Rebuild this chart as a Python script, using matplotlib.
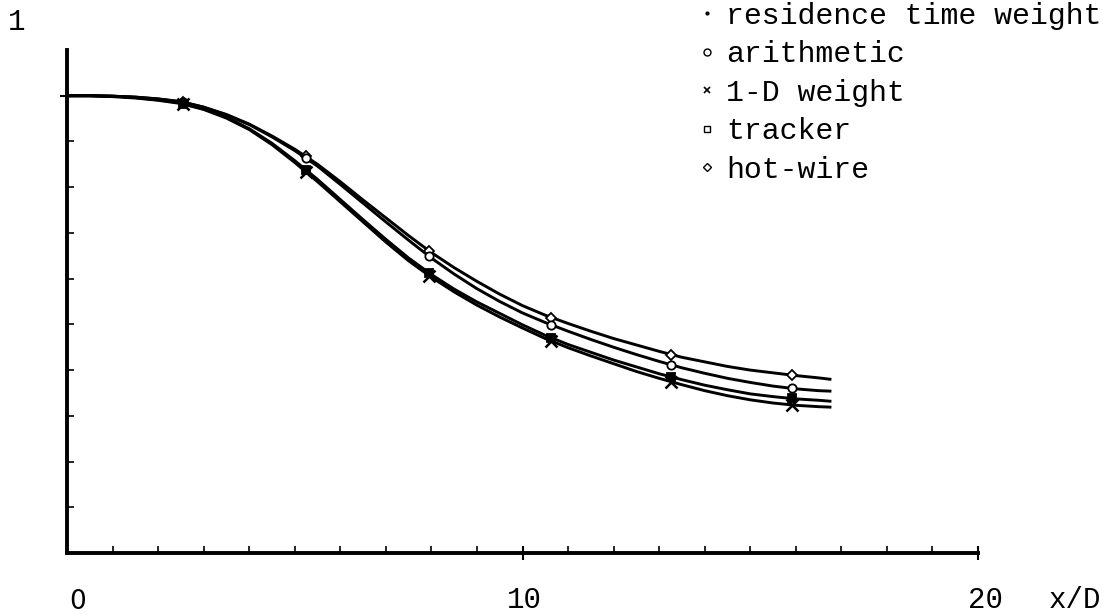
import matplotlib.pyplot as plt
from matplotlib.lines import Line2D

# smooth fitted curves, every 0.5 x/D
x_curve = [0, 0.5, 1, 1.5, 2, 2.5, 3, 3.5, 4, 4.5, 5, 5.5, 6, 6.5, 7, 7.5, 8, 8.5, 9, 9.5, 10,
           10.5, 11, 11.5, 12, 12.5, 13, 13.5, 14, 14.5, 15, 15.5, 16, 16.5, 16.75]
hotwire_curve = [1.000, 1.000, 0.999, 0.997, 0.993, 0.987, 0.975, 0.959, 0.938, 0.912, 0.883, 0.850,
                 0.812, 0.772, 0.733, 0.694, 0.657, 0.624, 0.594, 0.566, 0.541, 0.520, 0.502, 0.485,
                 0.469, 0.455, 0.441, 0.428, 0.418, 0.408, 0.400, 0.394, 0.388, 0.383, 0.380]
arith_curve = [1.000, 1.000, 0.999, 0.997, 0.993, 0.987, 0.975, 0.958, 0.937, 0.910, 0.880, 0.846,
               0.806, 0.765, 0.724, 0.684, 0.645, 0.610, 0.578, 0.550, 0.525, 0.504, 0.485, 0.467,
               0.450, 0.434, 0.419, 0.405, 0.393, 0.382, 0.373, 0.365, 0.359, 0.355, 0.354]
tracker_curve = [1.000, 1.000, 0.999, 0.996, 0.991, 0.984, 0.971, 0.953, 0.928, 0.896, 0.858, 0.817,
                 0.773, 0.729, 0.686, 0.645, 0.609, 0.577, 0.549, 0.524, 0.499, 0.476, 0.456, 0.439,
                 0.422, 0.407, 0.392, 0.379, 0.367, 0.357, 0.348, 0.342, 0.337, 0.334, 0.332]
oned_curve = [1.000, 1.000, 0.998, 0.995, 0.990, 0.983, 0.970, 0.951, 0.926, 0.893, 0.854, 0.812,
              0.768, 0.724, 0.680, 0.639, 0.603, 0.571, 0.542, 0.516, 0.492, 0.469, 0.449, 0.431,
              0.414, 0.397, 0.382, 0.368, 0.355, 0.344, 0.335, 0.328, 0.323, 0.320, 0.319]

# measuring stations (markers)
x_stations = [2.55, 5.25, 7.95, 10.63, 13.26, 15.92]
hotwire_pts = [0.986, 0.869, 0.660, 0.515, 0.434, 0.389]
arith_pts = [0.986, 0.864, 0.649, 0.499, 0.412, 0.360]
tracker_pts = [0.982, 0.838, 0.612, 0.471, 0.385, 0.338]
oned_pts = [0.981, 0.833, 0.606, 0.464, 0.375, 0.324]

legend_labels = ['residence time weight', 'arithmetic', '1-D weight', 'tracker', 'hot-wire']

mono = 'Liberation Mono'

fig = plt.figure(figsize=(11.03, 6.15), dpi=100)
ax = fig.add_axes([67/1103, 1 - 553/615, (978-67)/1103, (553-50)/615])

for yc in [hotwire_curve, arith_curve, tracker_curve, oned_curve]:
    ax.plot(x_curve, yc, color='black', lw=2.1, solid_joinstyle='round', zorder=2)

ms = 6
ax.plot(x_stations, hotwire_pts, ls='none', marker='D', ms=5, mfc='white', mec='black', mew=1.3, zorder=3)
ax.plot(x_stations, arith_pts, ls='none', marker='o', ms=ms, mfc='white', mec='black', mew=1.3, zorder=3)
ax.plot(x_stations, tracker_pts, ls='none', marker='s', ms=ms, mfc='black', mec='black', mew=1.3, zorder=3)
ax.plot(x_stations, oned_pts, ls='none', marker='x', ms=8, mec='black', mew=1.8, zorder=3)

ax.set_xlim(0, 20)
ax.set_ylim(0, 1.1)
for s in ['top', 'right']:
    ax.spines[s].set_visible(False)
ax.spines['left'].set_linewidth(2.8)
ax.spines['bottom'].set_linewidth(2.8)

ax.set_xticks([10, 20])
ax.set_xticks(range(0, 21), minor=True)
ax.set_yticks([1.0])
ax.set_yticks([i / 10 for i in range(0, 11)], minor=True)
ax.tick_params(which='major', direction='inout', length=10, width=1.5, labelbottom=False, labelleft=False)
ax.tick_params(which='minor', direction='in', length=5, width=1.2)

# axis labels placed like the original
fig.text(17/1103, 1 - 22/615, '1', fontsize=21, family=mono, ha='center', va='center')
fig.text(78/1103, 1 - 602/615, '0', fontsize=19, family='DejaVu Sans', ha='center', va='center')
fig.text(524/1103, 1 - 600/615, '10', fontsize=21, family=mono, ha='center', va='center')
fig.text(985/1103, 1 - 600/615, '20', fontsize=21, family=mono, ha='center', va='center')
fig.text(1075/1103, 1 - 600/615, 'x/D', fontsize=21, family=mono, ha='center', va='center')

handles = [
    Line2D([], [], ls='none', marker='.', ms=4, color='black'),
    Line2D([], [], ls='none', marker='o', ms=5, mfc='white', mec='black', mew=1.0),
    Line2D([], [], ls='none', marker='x', ms=5, mec='black', mew=1.2),
    Line2D([], [], ls='none', marker='s', ms=5, mfc='white', mec='black', mew=1.0),
    Line2D([], [], ls='none', marker='D', ms=4.5, mfc='white', mec='black', mew=1.0),
]
fig.legend(handles, legend_labels, loc='upper left', bbox_to_anchor=(683/1103, 1 + 13/615),
           frameon=False, prop={'family': mono, 'size': 21.5}, handlelength=0.6,
           handletextpad=0.35, labelspacing=0.35, borderpad=0)

fig.savefig('out.png', dpi=100)
